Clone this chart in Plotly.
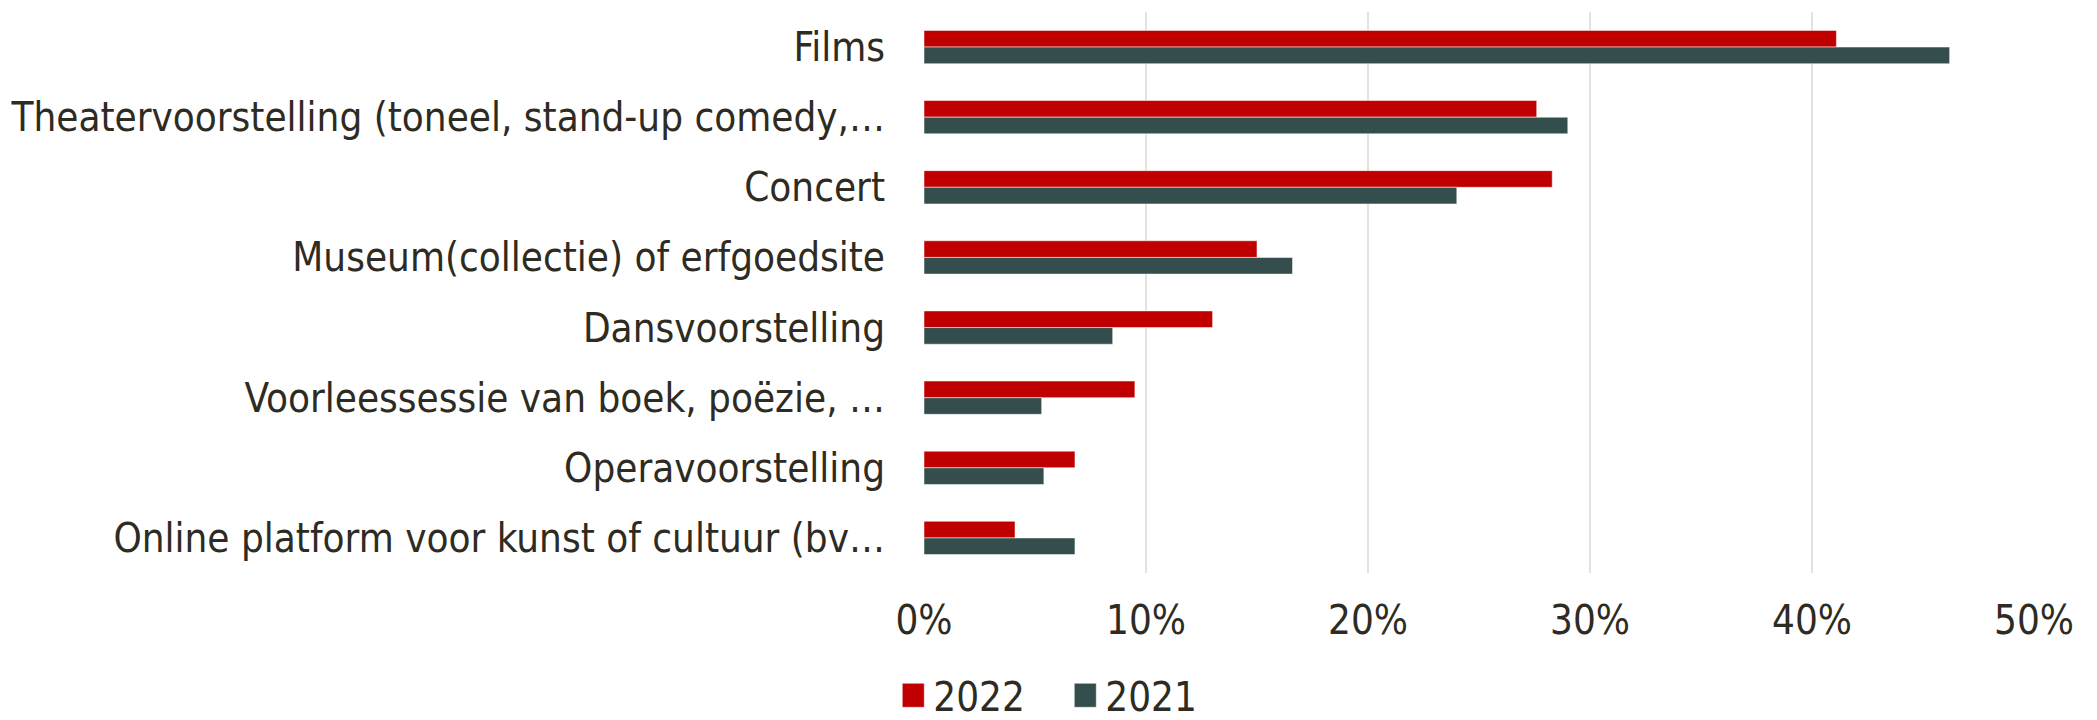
import plotly.graph_objects as go

categories = [
    "Films",
    "Theatervoorstelling (toneel, stand-up comedy,…",
    "Concert",
    "Museum(collectie) of erfgoedsite",
    "Dansvoorstelling",
    "Voorleessessie van boek, poëzie, …",
    "Operavoorstelling",
    "Online platform voor kunst of cultuur (bv…",
]
values_2022 = [0.411, 0.276, 0.283, 0.150, 0.130, 0.095, 0.068, 0.041]
values_2021 = [0.462, 0.290, 0.240, 0.166, 0.085, 0.053, 0.054, 0.068]
x_ticks = [0, 0.1, 0.2, 0.3, 0.4, 0.5]

series = [("2022", values_2022, "#C00000"), ("2021", values_2021, "#344E4D")]

FONT = "DejaVu Sans Condensed, sans-serif"
TEXT_COLOR = "#2E2B22"

fig = go.Figure()
for name, vals, color in series:
    fig.add_trace(go.Bar(
        y=categories, x=vals, name=name, orientation="h",
        marker=dict(color=color, line=dict(color="rgba(255,255,255,0.5)", width=1)),
    ))

fig.update_layout(
    width=2097, height=720,
    margin=dict(l=924, r=63, t=12, b=147, autoexpand=False),
    barmode="group", bargap=0.525, bargroupgap=0,
    plot_bgcolor="white", paper_bgcolor="white",
    font=dict(family=FONT, size=40, color=TEXT_COLOR),
    showlegend=True,
    legend=dict(
        orientation="h", xref="container", x=0.508, xanchor="center",
        yref="paper", y=-0.218, yanchor="middle", font=dict(size=40),
        traceorder="normal", itemwidth=30, entrywidth=127,
    ),
    xaxis=dict(
        range=[0, 0.5], tickvals=x_ticks, tickformat=".0%",
        showgrid=True, gridcolor="#E3E3DC", gridwidth=2,
        zeroline=False, showline=False, ticks="",
        ticklabelstandoff=20,
    ),
    yaxis=dict(
        autorange="reversed", showgrid=False, showline=False, ticks="",
        ticklabelstandoff=38,
    ),
)

# enlarge the legend key squares
enlarge_keys = """
var gd = document.querySelector('.plotly-graph-div');
function bigKeys() {
  gd.querySelectorAll('.legend .legendpoints path').forEach(function (p) {
    p.setAttribute('d', 'M11,12H-11V-12H11Z');
  });
}
bigKeys();
gd.on('plotly_afterplot', bigKeys);
"""

fig.write_html("out.html", post_script=enlarge_keys)
